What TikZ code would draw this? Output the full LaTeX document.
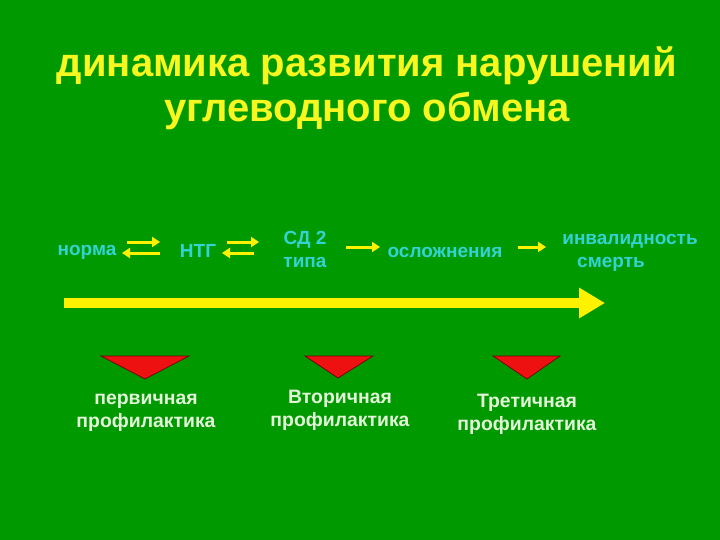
\documentclass[tikz,border=0pt]{standalone}
\usepackage{fontspec}
\setmainfont{Liberation Sans}
\usetikzlibrary{arrows.meta}
\definecolor{bgreen}{HTML}{009900}
\definecolor{lcyan}{HTML}{33D3D3}
\definecolor{pale}{HTML}{E2F5D8}
\definecolor{tred}{HTML}{EE1111}
\definecolor{tyel}{HTML}{F8F820}
\tikzset{
  every picture/.style={>=Triangle},
  stage/.style={lcyan, font=\bfseries\fontsize{19}{23}\selectfont, align=center, inner sep=1pt},
  prof/.style={pale, font=\bfseries\fontsize{19.4}{22.7}\selectfont, align=center, inner sep=1pt},
  flow/.style={yellow, line width=3pt, -{Triangle[length=8pt,width=10pt]}},
  tri/.style={fill=tred, draw=black!55!red, line width=0.7pt},
}
\begin{document}
\begin{tikzpicture}[x=1pt,y=-1pt]
  \fill[bgreen] (0,0) rectangle (720,540);
  \useasboundingbox (0,0) rectangle (720,540);
  % title
  \node[tyel, font=\bfseries\fontsize{40}{45}\selectfont, align=center] (title) at (367,88)
    {динамика развития нарушений\\углеводного обмена};
  % stages
  \node[stage] (norma) at (87,252) {норма};
  \node[stage] (ntg) at (198,251) {НТГ};
  \node[stage] (sd) at (305,249) {СД 2\\типа};
  \node[stage] (osl) at (445,252) {осложнения};
  \node[stage] (inv) at (630,253) {инвалидность\\\hspace*{-2em}смерть};
  % transition ends
  \coordinate (a1) at (127,242); \coordinate (b1) at (160,242);
  \coordinate (a2) at (122,253); \coordinate (b2) at (160,253);
  \coordinate (a3) at (227,242); \coordinate (b3) at (259,242);
  \coordinate (a4) at (222,253); \coordinate (b4) at (254,253);
  \coordinate (a5) at (346,247); \coordinate (b5) at (380,247);
  \coordinate (a6) at (518,247); \coordinate (b6) at (546,247);
  \draw[flow] (a1) -- (b1);
  \draw[flow] (b2) -- (a2);
  \draw[flow] (a3) -- (b3);
  \draw[flow] (b4) -- (a4);
  \draw[flow] (a5) -- (b5);
  \draw[flow] (a6) -- (b6);
  % time axis
  \coordinate (t0) at (64,303);
  \coordinate (t1) at (605,303);
  \draw[yellow, line width=10pt, -{Triangle[length=26pt,width=29pt]}] (t0) -- (t1);
  % prevention
  \draw[tri] (101,356) -- (189,356) -- (145,379) -- cycle;
  \draw[tri] (305,356) -- (373,356) -- (338,378) -- cycle;
  \draw[tri] (493,356) -- (560,356) -- (527,379) -- cycle;
  \node[prof] (p1) at (146,412.5) {первичная\\профилактика};
  \node[prof] (p2) at (340,410) {Вторичная\\профилактика};
  \node[prof] (p3) at (527,414.5) {Третичная\\профилактика};
\end{tikzpicture}
\end{document}
